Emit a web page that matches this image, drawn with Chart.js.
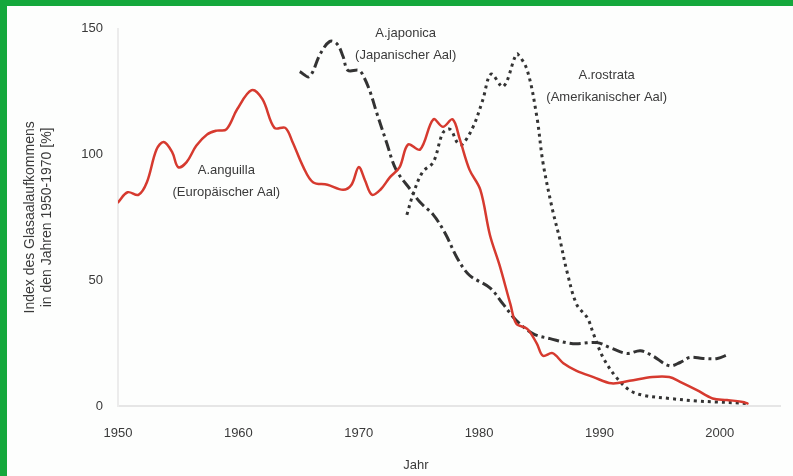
<!DOCTYPE html>
<html>
<head>
<meta charset="utf-8">
<script src="https://cdn.jsdelivr.net/npm/chart.js@4"></script>
<style>
  html, body { margin: 0; padding: 0; background: #fff; }
  #frame {
    width: 793px; height: 476px; box-sizing: border-box;
    border-top: 6px solid #14a83c; border-left: 7px solid #14a83c;
    background: #fdfefd;
  }
  #wrap { position: relative; width: 786px; height: 470px; }
</style>
</head>
<body>
<div id="frame"><div id="wrap"><canvas id="chart"></canvas></div></div>
<script>
// ---------------------------------------------------------------------------
// Data (year, index %)
// ---------------------------------------------------------------------------

const anguillaYears = [1950, 1950.8, 1951.7, 1952.4, 1953.2, 1953.8, 1954.5, 1955, 1955.7, 1956.5,
  1957.4, 1958.2, 1959, 1959.9, 1961.1, 1962, 1963, 1963.9, 1964.5, 1965.4, 1966.2, 1967.4,
  1968.7, 1969.4, 1970, 1970.5, 1971.1, 1971.8, 1972.6, 1973.4, 1974.1, 1975.1, 1976.2, 1977,
  1977.8, 1978.4, 1979.2, 1980.1, 1980.9, 1981.7, 1982.6, 1983.1, 1984, 1984.8, 1985.3, 1986.1,
  1987, 1988.1, 1989.5, 1991, 1992.5, 1994.4, 1995.8, 1996.7, 1998.1, 1999.4, 2000.6, 2001.9, 2002.3];
const anguillaValues = [81, 85, 84, 89, 102, 105, 101, 95, 97, 103.5,
  108, 109.5, 110, 118, 125.6, 122, 110.6, 110.6, 105, 95, 89, 88,
  86, 88, 95, 90, 84, 86, 91, 95, 104, 102, 114, 111,
  114, 106, 94, 86, 68, 56, 40.5, 32.7, 30.7, 24.8, 20, 21,
  17, 14, 11.5, 9, 10, 11.5, 11.5, 9.6, 6.3, 3, 2.4, 1.6, 1];

const japonicaYears = [1965.1, 1965.9, 1966.8, 1967.6, 1968.2, 1968.7, 1969.1, 1970, 1970.3, 1970.9,
  1971.5, 1972.3, 1973.1, 1974.3, 1975.1, 1976.2, 1977.2, 1978.2, 1979.2, 1980.9, 1982, 1983.1,
  1984.5, 1985.9, 1987.8, 1989.8, 1990.9, 1992.3, 1993.4, 1994.4, 1995.8, 1996.7, 1997.5, 1998.6,
  1999.8, 2000.7];
const japonicaValues = [133, 131, 140, 145, 144, 139, 133.5, 133.5, 132, 125.6,
  116.5, 105, 94, 86, 81, 76, 68.5, 58.7, 52, 47, 40.5, 34,
  28.7, 26.8, 24.8, 25.2, 23.2, 20.9, 22, 20, 16, 17.3, 19.3, 18.9,
  18.9, 20.5];

const rostrataYears = [1974, 1974.5, 1975.3, 1976.2, 1977, 1977.6, 1978.2, 1978.6, 1979.5, 1980.3,
  1981, 1982, 1983, 1983.2, 1984, 1984.8, 1985.3, 1986.1, 1986.7, 1987.3, 1988.1, 1989, 1989.5,
  1990.3, 1991.4, 1992.5, 1993.6, 1995.8, 1998.1, 1999.7, 2001.6, 2002.2];
const rostrataValues = [76, 84, 93, 97, 108.7, 110, 104.7, 104, 111, 121.6,
  132, 127, 139, 140, 133.5, 115, 97, 78, 66.5, 53.5, 40.5, 35, 28.7,
  19.3, 11.4, 6.3, 4.3, 3, 2, 1.6, 1.2, 1];

const xTicks = [1950, 1960, 1970, 1980, 1990, 2000];
const yTicks = [0, 50, 100, 150];

// Species labels, anchored at data coordinates
const speciesLabels = [
  { x: 1959, y: 93.5, lines: ['A.anguilla', '(Europäischer Aal)'] },
  { x: 1973.9, y: 148, lines: ['A.japonica', '(Japanischer Aal)'] },
  { x: 1990.6, y: 131.5, lines: ['A.rostrata', '(Amerikanischer Aal)'] },
];

const FONT = '"Liberation Sans", Arial, sans-serif';
const TEXT = '#3a3a3a';

const toPoints = (xs, ys) => xs.map((x, i) => ({ x, y: ys[i] }));

// ---------------------------------------------------------------------------
// Plugin: species labels and the "Jahr" title
// ---------------------------------------------------------------------------

const labelPlugin = {
  id: 'speciesLabels',
  afterDatasetsDraw(chart) {
    const { ctx, scales: { x, y }, chartArea } = chart;
    ctx.save();
    ctx.fillStyle = TEXT;
    ctx.font = `13px ${FONT}`;
    ctx.textAlign = 'center';
    ctx.textBaseline = 'middle';
    for (const lab of speciesLabels) {
      const px = x.getPixelForValue(lab.x);
      const py = y.getPixelForValue(lab.y);
      lab.lines.forEach((t, i) => ctx.fillText(t, px, py + i * 22));
    }
    ctx.textAlign = 'left';
    ctx.fillText('Jahr', x.getPixelForValue(1973.7), chartArea.bottom + 59);
    ctx.restore();
  },
};

const commonLine = { pointRadius: 0, tension: 0.35, fill: false, borderCapStyle: 'round' };

new Chart(document.getElementById('chart'), {
  type: 'line',
  data: {
    datasets: [
      { ...commonLine, label: 'A.anguilla', data: toPoints(anguillaYears, anguillaValues),
        borderColor: '#d63a2f', borderWidth: 2.5 },
      { ...commonLine, label: 'A.japonica', data: toPoints(japonicaYears, japonicaValues),
        borderColor: '#333333', borderWidth: 3, borderDash: [11, 4, 3, 4], borderCapStyle: 'butt' },
      { ...commonLine, label: 'A.rostrata', data: toPoints(rostrataYears, rostrataValues),
        borderColor: '#333333', borderWidth: 3, borderDash: [3, 4], borderCapStyle: 'butt' },
    ],
  },
  options: {
    responsive: true,
    maintainAspectRatio: false,
    animation: false,
    layout: { padding: { top: 19, right: 13, bottom: 0, left: 15 } },
    plugins: { legend: { display: false }, tooltip: { enabled: false } },
    scales: {
      x: {
        type: 'linear', min: 1950, max: 2005,
        afterBuildTicks: s => { s.ticks = xTicks.map(v => ({ value: v })); },
        afterFit: s => { s.height = 70; },
        grid: { display: false, drawTicks: false },
        border: { display: true, color: '#e6e6e6', width: 2 },
        ticks: { color: TEXT, font: { family: FONT, size: 13 }, padding: 20, maxRotation: 0,
          callback: v => String(v) },
      },
      y: {
        type: 'linear', min: 0, max: 150,
        afterBuildTicks: s => { s.ticks = yTicks.map(v => ({ value: v })); },
        afterFit: s => { s.width = 96; },
        grid: { display: false, drawTicks: false },
        border: { display: true, color: '#ececec', width: 2 },
        ticks: { color: TEXT, font: { family: FONT, size: 13 }, padding: 15 },
        title: {
          display: true,
          text: ['Index des Glasaalaufkommens', 'in den Jahren 1950-1970 [%]'],
          color: TEXT, font: { family: FONT, size: 14 }, padding: { top: 0, bottom: 0 },
        },
      },
    },
  },
  plugins: [labelPlugin],
});
</script>
</body>
</html>
